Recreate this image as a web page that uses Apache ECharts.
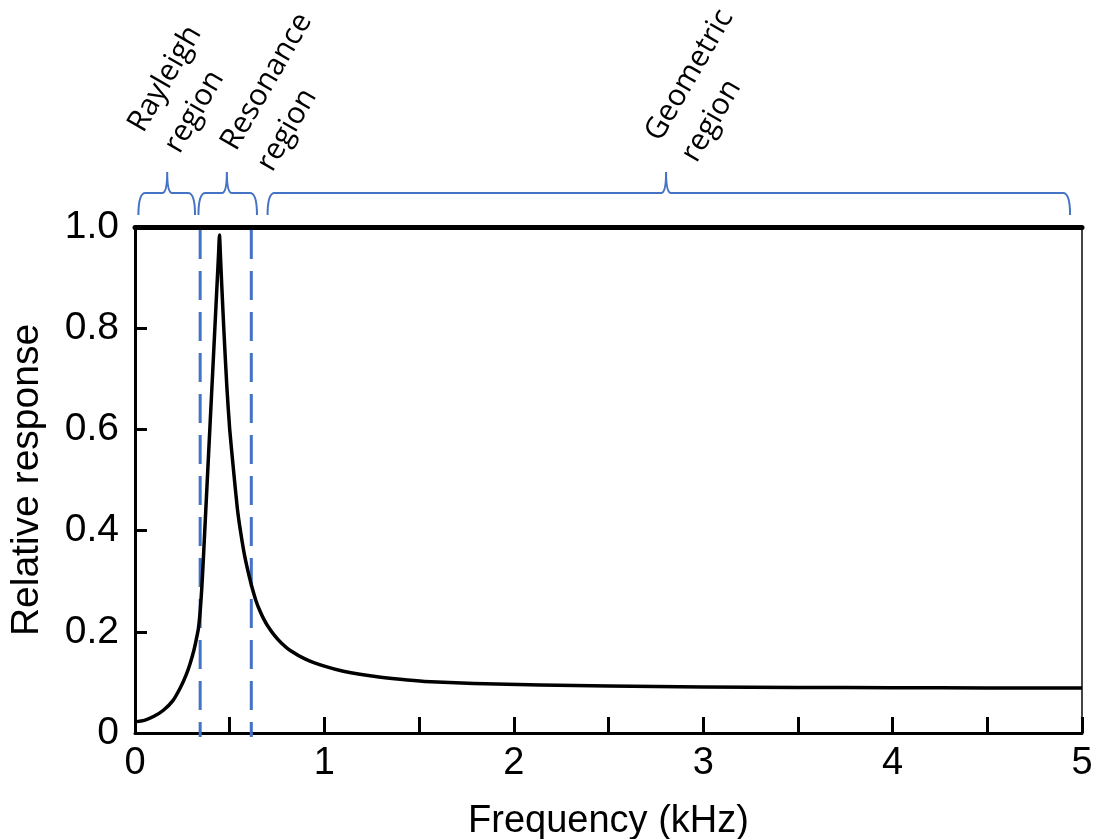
<!DOCTYPE html>
<html>
<head>
<meta charset="utf-8">
<script src="https://cdn.jsdelivr.net/npm/echarts@6/dist/echarts.min.js"></script>
<style>html,body{margin:0;padding:0;background:#fff}#c{width:1100px;height:839px}</style>
</head>
<body>
<div id="c"></div>
<script>
// ---- data ----
const freq = [0, 0.05, 0.1, 0.15, 0.2, 0.24, 0.27, 0.29, 0.31, 0.322, 0.335, 0.345, 0.353, 0.362, 0.37, 0.385, 0.397, 0.41, 0.423, 0.435, 0.441, 0.446, 0.452, 0.459, 0.47, 0.485, 0.50, 0.52, 0.54, 0.556, 0.575, 0.591, 0.617, 0.64, 0.661, 0.68, 0.70, 0.732, 0.77, 0.82, 0.9, 1.0, 1.1, 1.26, 1.4, 1.53, 1.79, 2.14, 2.5, 3.0, 3.5, 4.0, 4.5, 5.0];
const response = [0.022, 0.025, 0.033, 0.045, 0.064, 0.090, 0.115, 0.136, 0.162, 0.182, 0.207, 0.245, 0.289, 0.352, 0.412, 0.525, 0.615, 0.712, 0.81, 0.90, 0.945, 0.984, 0.935, 0.877, 0.79, 0.684, 0.60, 0.52, 0.445, 0.401, 0.358, 0.329, 0.289, 0.260, 0.240, 0.225, 0.212, 0.195, 0.179, 0.163, 0.146, 0.132, 0.122, 0.112, 0.106, 0.102, 0.098, 0.095, 0.093, 0.091, 0.090, 0.0895, 0.089, 0.089];
const boundaries = [0.344, 0.614];
const regionLabels = ['Rayleigh\nregion', 'Resonance\nregion', 'Geometric\nregion'];
const braceStart = [0.018, 0.335, 0.700];
const braceEnd = [0.317, 0.644, 4.937];
const braceTip = [0.170, 0.485, 2.804];
const labelAt = [0.100, 0.590, 2.830];
const labelLevel = [1.172, 1.136, 1.154];
const xTicks = [0, 1, 2, 3, 4, 5];
const yTicks = [0, 0.2, 0.4, 0.6, 0.8, 1.0];

const BLUE = '#4472C4';
const curve = freq.map((f, i) => [f, response[i]]);
const braceData = braceStart.map((s, i) => [s, braceEnd[i], braceTip[i], labelAt[i], labelLevel[i]]);

const chart = echarts.init(document.getElementById('c'), null, {renderer: 'canvas'});
const dashSeries = boundaries.map(b => ({
  type: 'line', data: [[b, 0.994], [b, -0.008]], symbol: 'none', clip: false, silent: true,
  lineStyle: {color: BLUE, width: 3, type: [29, 12]}, z: 3
}));

chart.setOption({
  animation: false,
  grid: {left: 135, right: 18, top: 227, bottom: 106, outerBoundsMode: 'none', containLabel: false},
  xAxis: [{
    type: 'value', min: 0, max: 5, interval: 0.5, position: 'bottom',
    name: 'Frequency (kHz)', nameLocation: 'middle', nameGap: 70,
    nameTextStyle: {fontFamily: 'Liberation Sans', fontSize: 38, color: '#000'},
    axisLine: {show: true, onZero: false, lineStyle: {color: '#000', width: 3}},
    axisTick: {show: true, inside: true, length: 16, lineStyle: {color: '#000', width: 3}},
    axisLabel: {fontFamily: 'Liberation Sans', fontSize: 38, color: '#000', margin: 12,
      formatter: v => xTicks.indexOf(v) >= 0 ? String(v) : ''},
    splitLine: {show: false}
  }, {
    type: 'value', min: 0, max: 5, position: 'top',
    axisLine: {show: true, onZero: false, lineStyle: {color: '#000', width: 5}},
    axisTick: {show: false}, axisLabel: {show: false}, splitLine: {show: false}
  }],
  yAxis: [{
    type: 'value', min: 0, max: 1, interval: 0.2, position: 'left',
    name: 'Relative response', nameLocation: 'middle', nameGap: 88,
    nameTextStyle: {fontFamily: 'Liberation Sans', fontSize: 39, color: '#000'},
    axisLine: {show: true, onZero: false, lineStyle: {color: '#000', width: 3}},
    axisTick: {show: true, inside: true, length: 12, lineStyle: {color: '#000', width: 3}},
    axisLabel: {fontFamily: 'Liberation Sans', fontSize: 39, color: '#000', margin: 16,
      formatter: v => { const t = yTicks.find(y => Math.abs(y - v) < 1e-9); return t === 0 ? '0' : t.toFixed(1); }},
    splitLine: {show: false}
  }, {
    type: 'value', min: 0, max: 1, position: 'right',
    axisLine: {show: true, onZero: false, lineStyle: {color: '#444', width: 2}},
    axisTick: {show: false}, axisLabel: {show: false}, splitLine: {show: false}
  }],
  series: [
    ...dashSeries,
    {
      type: 'line', data: curve, symbol: 'none', smooth: 0.2, z: 4,
      lineStyle: {color: '#000', width: 3.5, join: 'round'}
    },
    {
      type: 'custom', clip: false, silent: true, data: braceData, z: 5,
      renderItem: (params, api) => {
        const top = api.coord([0, 1])[1];
        const x0 = api.coord([api.value(0), 0])[0];
        const x1 = api.coord([api.value(1), 0])[0];
        const xt = api.coord([api.value(2), 0])[0];
        const lp = api.coord([api.value(3), api.value(4)]);
        const yb = top - 12, yh = top - 34, yt = top - 55;
        const r = 7;
        const d = `M${x0},${yb} Q${x0},${yh} ${x0 + r},${yh} L${xt - 5},${yh} Q${xt},${yh} ${xt},${yt} Q${xt},${yh} ${xt + 5},${yh} L${x1 - r},${yh} Q${x1},${yh} ${x1},${yb}`;
        return {
          type: 'group',
          children: [
            {type: 'path', shape: {pathData: d}, style: {fill: 'none', stroke: BLUE, lineWidth: 2}},
            {type: 'text', x: lp[0], y: lp[1], rotation: 60 * Math.PI / 180,
              style: {text: regionLabels[params.dataIndex], fontFamily: 'Open Sans', fontSize: 30,
                lineHeight: 42, fill: '#000', align: 'left', verticalAlign: 'middle'}}
          ]
        };
      }
    }
  ]
});
</script>
</body>
</html>
